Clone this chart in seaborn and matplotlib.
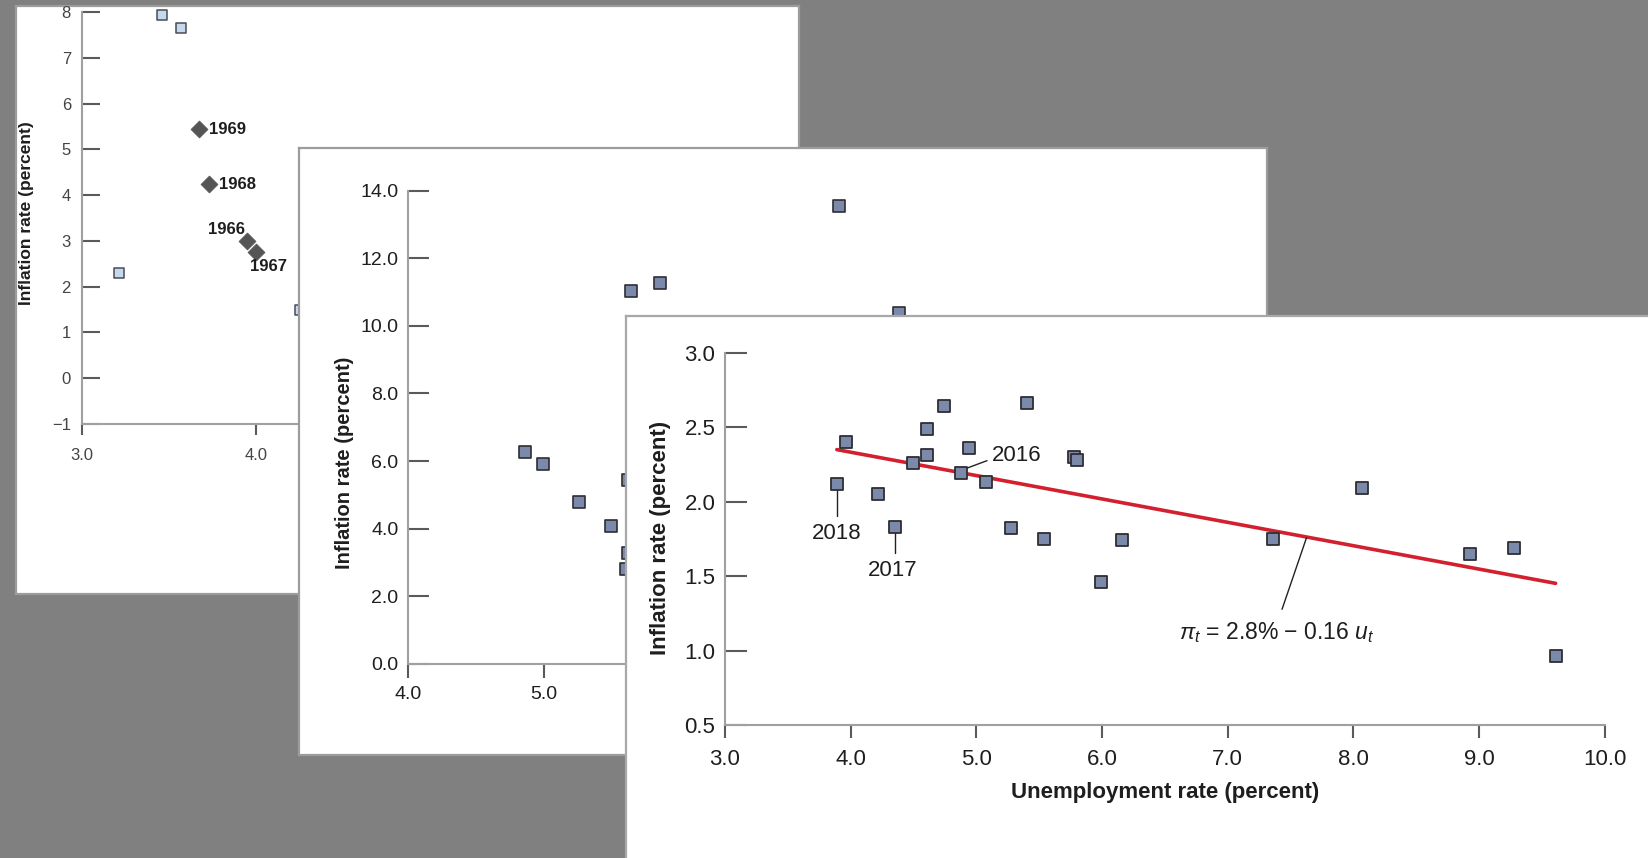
import numpy as np
import pandas as pd
import matplotlib
matplotlib.use("Agg")
import matplotlib.pyplot as plt
import seaborn as sns

# ---------------- data ----------------
# Panel 1 (1960s)
p1_light_u = [3.46, 3.57, 3.21, 4.25]
p1_light_pi = [7.93, 7.65, 2.30, 1.50]
p1_years = ["1966", "1967", "1968", "1969"]
p1_dia_u = [3.95, 4.00, 3.73, 3.67]
p1_dia_pi = [3.00, 2.76, 4.24, 5.44]
p1_yticks = [-1, 0, 1, 2, 3, 4, 5, 6, 7, 8]
p1_xticks = [3.0, 4.0, 5.0]

# Panel 2 (1970s)
p2_u = [4.86, 4.99, 5.26, 5.49, 5.62, 5.62, 5.60, 5.64, 5.85, 7.17, 7.61]
p2_pi = [6.28, 5.91, 4.79, 4.09, 5.44, 3.28, 2.81, 11.03, 11.27, 13.54, 10.39]
p2_yticks = [0.0, 2.0, 4.0, 6.0, 8.0, 10.0, 12.0, 14.0]
p2_xticks = [4.0, 5.0, 6.0]

# Panel 3 (recent)
p3_u = [3.89, 3.96, 4.22, 4.35, 4.50, 4.61, 4.61, 4.74, 4.88, 4.94, 5.08, 5.28,
        5.40, 5.54, 5.78, 5.80, 5.99, 6.16, 7.36, 8.07, 8.93, 9.28, 9.61]
p3_pi = [2.12, 2.40, 2.05, 1.83, 2.26, 2.49, 2.31, 2.64, 2.19, 2.36, 2.13, 1.82,
         2.66, 1.75, 2.30, 2.28, 1.46, 1.74, 1.75, 2.09, 1.65, 1.69, 0.96]
p3_yticks = [0.5, 1.0, 1.5, 2.0, 2.5, 3.0]
p3_xticks = [3.0, 4.0, 5.0, 6.0, 7.0, 8.0, 9.0, 10.0]
fit_intercept = 2.96
fit_slope = -0.157

# ---------------- style ----------------
sns.set_style("ticks")
plt.rcParams["font.family"] = ["Liberation Sans", "DejaVu Sans"]
plt.rcParams["mathtext.fontset"] = "custom"
plt.rcParams["mathtext.rm"] = "Liberation Sans"
plt.rcParams["mathtext.it"] = "Liberation Sans:italic"
plt.rcParams["mathtext.bf"] = "Liberation Sans:bold"

W, H = 1649, 858
fig = plt.figure(figsize=(W / 100, H / 100), dpi=100)
fig.patch.set_facecolor("#808080")


def rect(x0, y0, x1, y1):
    return [x0 / W, 1 - y1 / H, (x1 - x0) / W, (y1 - y0) / H]


def card(x0, y0, x1, y1, ec="#9c9c9c"):
    a = fig.add_axes(rect(x0, y0, x1, y1))
    a.set_facecolor("white")
    a.set_xticks([])
    a.set_yticks([])
    for s in a.spines.values():
        s.set_color(ec)
        s.set_linewidth(1.6)
    return a


def data_axes(x0, y0, x1, y1):
    a = fig.add_axes(rect(x0, y0, x1, y1))
    a.set_facecolor("none")
    for side in ["top", "right"]:
        a.spines[side].set_visible(False)
    for side in ["left", "bottom"]:
        a.spines[side].set_color("#a0a0a0")
        a.spines[side].set_linewidth(1.5)
    return a


SQ_FILL = "#7b8aab"
SQ_EDGE = "#2e2e33"
TXT = "#1e1e1e"

# ---------------- panel 1 ----------------
card(16, 6, 799, 594)
X0, X1, Y0, Y1 = 82, 780, 12, 424
ax1 = data_axes(X0, Y0, X1, Y1)
ax1.set_xlim(3.0, 3.0 + (X1 - X0) / 174)
ax1.set_ylim(-1, 8)
sns.scatterplot(x=p1_light_u, y=p1_light_pi, marker="s", s=62, color="#c4d8ef",
                edgecolor="#4a4a55", linewidth=1.1, ax=ax1, clip_on=False, zorder=3)
sns.scatterplot(x=p1_dia_u, y=p1_dia_pi, marker="D", s=75, color="#555555",
                edgecolor="#555555", linewidth=0.5, ax=ax1, clip_on=False, zorder=3)
ax1.set_yticks(p1_yticks)
ax1.set_yticklabels([str(v).replace("-", "\u2212") for v in p1_yticks])
ax1.set_xticks(p1_xticks)
ax1.set_xticklabels([f"{v:.1f}" for v in p1_xticks])
ax1.tick_params(axis="y", direction="in", length=13, width=1.5, color="#5a5a5a",
                pad=8, labelsize=12, labelcolor="#444444")
ax1.tick_params(axis="x", direction="out", length=8, width=1.5, color="#5a5a5a",
                pad=9, labelsize=12, labelcolor="#444444")
ax1.set_ylabel("Inflation rate (percent)", fontsize=12.5, fontweight="bold", color=TXT)
ax1.yaxis.set_label_coords(-(X0 - 34) / (X1 - X0), (Y1 - 213) / (Y1 - Y0))
lab1 = {"1969": (3.73, 5.44, "left"), "1968": (3.79, 4.24, "left"),
        "1966": (3.83, 3.24, "center"), "1967": (4.07, 2.43, "center")}
for yr in p1_years:
    x, y, ha = lab1[yr]
    ax1.text(x, y, yr, ha=ha, va="center", fontsize=12, fontweight="bold", color=TXT)

# ---------------- panel 2 ----------------
card(299, 148, 1267, 755)
X0, X1, Y0, Y1 = 408, 1250, 190.6, 664
ax2 = data_axes(X0, Y0, X1, Y1)
ax2.set_xlim(4.0, 4.0 + (X1 - X0) / 136)
ax2.set_ylim(0, 14)
sns.scatterplot(x=p2_u, y=p2_pi, marker="s", s=66, color=SQ_FILL,
                edgecolor=SQ_EDGE, linewidth=1.2, ax=ax2, clip_on=False, zorder=3)
ax2.set_yticks(p2_yticks)
ax2.set_yticklabels([f"{v:.1f}" for v in p2_yticks])
ax2.set_xticks(p2_xticks)
ax2.set_xticklabels([f"{v:.1f}" for v in p2_xticks])
ax2.tick_params(axis="y", direction="in", length=15, width=1.5, color="#5a5a5a",
                pad=7, labelsize=14, labelcolor=TXT)
ax2.tick_params(axis="x", direction="out", length=10, width=1.5, color="#5a5a5a",
                pad=6, labelsize=14, labelcolor=TXT)
ax2.set_ylabel("Inflation rate (percent)", fontsize=14.5, fontweight="bold", color=TXT)
ax2.yaxis.set_label_coords(-(X0 - 354) / (X1 - X0), (Y1 - 463) / (Y1 - Y0))

# ---------------- panel 3 ----------------
card(626, 316, 1700, 900, ec="#a8a8a8")
X0, X1, Y0, Y1 = 725, 1604.6, 352.7, 725
ax3 = data_axes(X0, Y0, X1, Y1)
ax3.set_xlim(3.0, 10.0)
ax3.set_ylim(0.5, 3.0)
fit_u = np.array([min(p3_u), max(p3_u)])
fit_df = pd.DataFrame({"u": fit_u, "pi": fit_intercept + fit_slope * fit_u})
sns.lineplot(data=fit_df, x="u", y="pi", color="#d2202f", linewidth=2.6, ax=ax3, zorder=2)
sns.scatterplot(x=p3_u, y=p3_pi, marker="s", s=72, color=SQ_FILL,
                edgecolor=SQ_EDGE, linewidth=1.3, ax=ax3, clip_on=False, zorder=3)
ax3.set_yticks(p3_yticks)
ax3.set_yticklabels([f"{v:.1f}" for v in p3_yticks])
ax3.set_xticks(p3_xticks)
ax3.set_xticklabels([f"{v:.1f}" for v in p3_xticks])
ax3.tick_params(axis="y", direction="in", length=16, width=1.5, color="#5a5a5a",
                pad=7, labelsize=16, labelcolor=TXT)
ax3.tick_params(axis="x", direction="out", length=9.5, width=1.5, color="#5a5a5a",
                pad=8, labelsize=16, labelcolor=TXT)
ax3.set_xlabel("Unemployment rate (percent)", fontsize=16, fontweight="bold", color=TXT)
ax3.set_ylabel("Inflation rate (percent)", fontsize=16, fontweight="bold", color=TXT)
ax3.xaxis.set_label_coords((1165 - X0) / (X1 - X0), -(782 - Y1) / (Y1 - Y0))
ax3.yaxis.set_label_coords(-(X0 - 671) / (X1 - X0), (Y1 - 538) / (Y1 - Y0))

# annotations
lw_a = 1.0
ax3.plot([3.89, 3.89], [2.078, 1.903], color="#222222", lw=lw_a, zorder=2)
ax3.text(3.89, 1.789, "2018", ha="center", va="center", fontsize=16, color=TXT)
ax3.plot([4.35, 4.35], [1.789, 1.655], color="#222222", lw=lw_a, zorder=2)
ax3.text(4.335, 1.54, "2017", ha="center", va="center", fontsize=16, color=TXT)
ax3.plot([4.907, 5.085], [2.219, 2.275], color="#222222", lw=lw_a, zorder=2)
ax3.text(5.12, 2.308, "2016", ha="left", va="center", fontsize=16, color=TXT)
ax3.plot([7.628, 7.433], [1.758, 1.277], color="#222222", lw=lw_a, zorder=2)
ax3.text(6.613, 1.12, "$\\pi_t$ = 2.8% \u2212 0.16 $u_t$",
         ha="left", va="center", fontsize=16.5, color=TXT)

fig.savefig("out.png", dpi=100, facecolor=fig.get_facecolor())
